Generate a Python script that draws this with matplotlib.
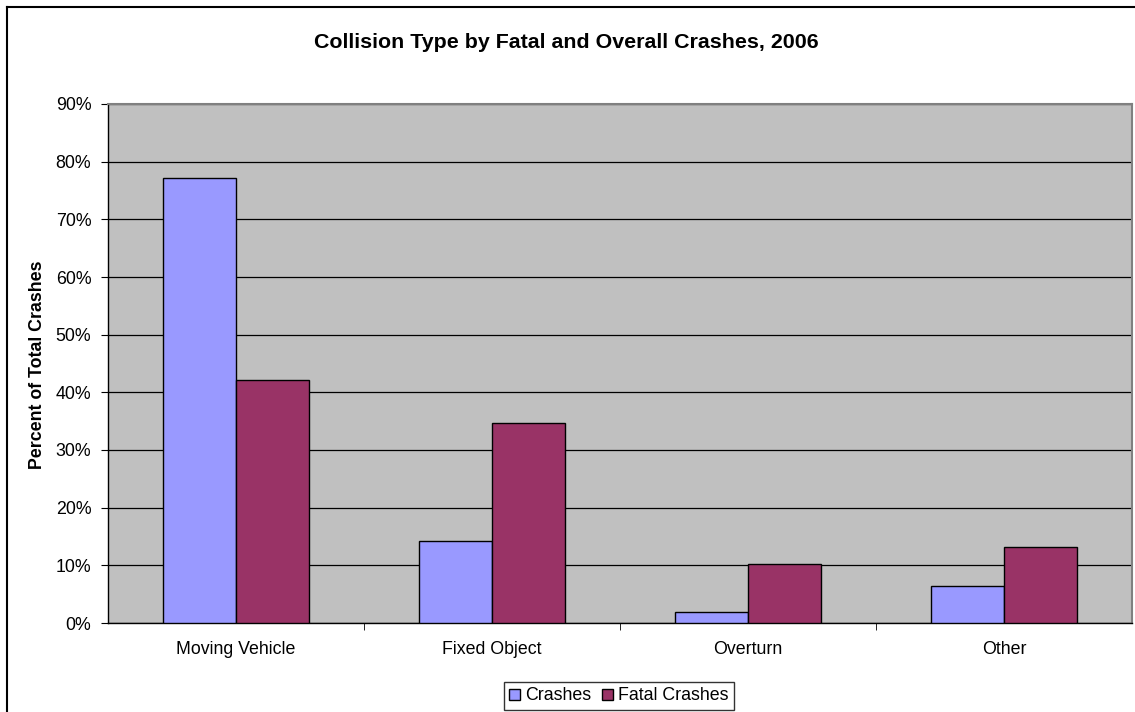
import numpy as np
import matplotlib.pyplot as plt
from matplotlib.patches import Patch
from matplotlib.lines import Line2D

plt.rcParams['font.family'] = ['Liberation Sans', 'DejaVu Sans']

# Данные графика
categories = ['Moving Vehicle', 'Fixed Object', 'Overturn', 'Other']
crashes = [77.2, 14.3, 1.9, 6.5]
fatal_crashes = [42.1, 34.6, 10.2, 13.2]
y_ticks = [0, 10, 20, 30, 40, 50, 60, 70, 80, 90]
y_tick_labels = ['0%', '10%', '20%', '30%', '40%', '50%', '60%', '70%', '80%', '90%']

W, H = 1135, 712
fig = plt.figure(figsize=(W / 100, H / 100), dpi=100)

# рамка области диаграммы
fig.add_artist(Line2D([7 / W, 1], [1 - 7 / H, 1 - 7 / H], color='black', lw=1.5))
fig.add_artist(Line2D([7 / W, 7 / W], [0, 1 - 7 / H], color='black', lw=1.5))

left, right, top, bottom = 108, 1132, 104, 623
ax = fig.add_axes([left / W, (H - bottom) / H, (right - left) / W, (bottom - top) / H])
ax.set_facecolor('#C0C0C0')

x = np.arange(len(categories))
w = 0.285
ax.bar(x - w / 2, crashes, w, color='#9999FF', edgecolor='black', linewidth=1, zorder=3)
ax.bar(x + w / 2, fatal_crashes, w, color='#993366', edgecolor='black', linewidth=1, zorder=3)

ax.set_xlim(-0.5, len(categories) - 0.5)
ax.set_ylim(0, 90)
ax.set_yticks(y_ticks)
ax.set_yticklabels(y_tick_labels, fontsize=12.8)
ax.yaxis.grid(True, color='black', linewidth=0.9, zorder=1)
ax.set_axisbelow(True)

ax.set_xticks(x)
ax.set_xticklabels(categories, fontsize=12.8)
ax.set_xticks(np.arange(0.5, len(categories) - 0.5, 1), minor=True)
ax.tick_params(axis='x', which='major', length=0, pad=13)
ax.tick_params(axis='x', which='minor', length=5, direction='out')
ax.tick_params(axis='y', length=5, direction='out', pad=7)

for s in ['top', 'right']:
    ax.spines[s].set_color('#808080')
    ax.spines[s].set_linewidth(1.5)
for s in ['left', 'bottom']:
    ax.spines[s].set_color('black')
    ax.spines[s].set_linewidth(1)

fig.text(566 / W, 1 - 43 / H, 'Collision Type by Fatal and Overall Crashes, 2006',
         ha='center', va='center', fontsize=15.4, fontweight='bold')
fig.text(38 / W, 1 - 365 / H, 'Percent of Total Crashes', rotation=90,
         ha='center', va='center', fontsize=12.8, fontweight='bold')

handles = [Patch(facecolor='#9999FF', edgecolor='black', label='Crashes'),
           Patch(facecolor='#993366', edgecolor='black', label='Fatal Crashes')]
leg = fig.legend(handles=handles, loc='center', bbox_to_anchor=(619 / W, 1 - 696 / H),
                 ncol=2, fontsize=12.8, frameon=True, fancybox=False, handlelength=0.6,
                 handleheight=0.6, handletextpad=0.3, columnspacing=0.6,
                 borderpad=0.3, borderaxespad=0)
leg.get_frame().set_edgecolor('black')
leg.get_frame().set_linewidth(1)

fig.savefig('out.png', dpi=100)
